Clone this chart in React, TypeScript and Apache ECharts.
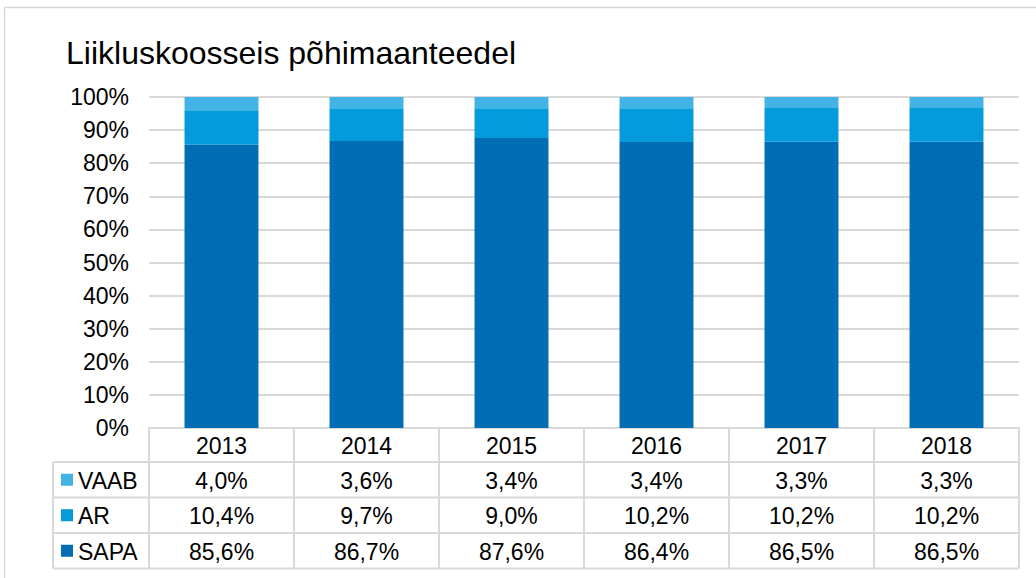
import React, { useEffect, useRef } from "react";
import * as echarts from "echarts";

const title = "Liikluskoosseis põhimaanteedel";
const years = ["2013", "2014", "2015", "2016", "2017", "2018"];
const seriesNames = ["SAPA", "AR", "VAAB"];
const sapa = [85.6, 86.7, 87.6, 86.4, 86.5, 86.5];
const ar = [10.4, 9.7, 9.0, 10.2, 10.2, 10.2];
const vaab = [4.0, 3.6, 3.4, 3.4, 3.3, 3.3];
const colors = ["#006DB4", "#039BDB", "#41B4E5"];

const W = 1036;
const H = 578;
const FONT = "'Liberation Sans', Arial, sans-serif";
const GRID_LEFT = 149;
const GRID_RIGHT = 17;
const GRID_TOP = 97;
const GRID_BOTTOM = 150;
const ROW_H = 35.5;
const LINE = "#D9D9D9";

const fmt = (v: number) => v.toFixed(1).replace(".", ",") + "%";

export default function App() {
  const ref = useRef<HTMLDivElement>(null);
  useEffect(() => {
    if (!ref.current) return;
    const chart = echarts.init(ref.current, undefined, { renderer: "svg" });
    const axisY = H - GRID_BOTTOM;
    const plotW = W - GRID_LEFT - GRID_RIGHT;
    const colW = plotW / years.length;
    const headerBottom = axisY + 34;
    const rowsData = [
      { name: seriesNames[2], vals: vaab, color: colors[2] },
      { name: seriesNames[1], vals: ar, color: colors[1] },
      { name: seriesNames[0], vals: sapa, color: colors[0] },
    ];
    const tableBottom = headerBottom + ROW_H * rowsData.length;
    const leftX = 53;
    const g: any[] = [];
    // outer frame
    g.push({
      type: "rect",
      shape: { x: 4.5, y: 7.5, width: W + 20, height: H + 20 },
      style: { fill: "none", stroke: LINE, lineWidth: 1.5 },
      silent: true,
    });
    // vertical lines
    for (let i = 0; i <= years.length; i++) {
      const x = GRID_LEFT + i * colW;
      g.push({
        type: "line",
        shape: { x1: x, y1: axisY, x2: x, y2: tableBottom },
        style: { stroke: LINE, lineWidth: 2 },
      });
    }
    g.push({
      type: "line",
      shape: { x1: leftX, y1: headerBottom, x2: leftX, y2: tableBottom },
      style: { stroke: LINE, lineWidth: 2 },
    });
    for (let r = 0; r <= rowsData.length; r++) {
      const y = headerBottom + r * ROW_H;
      g.push({
        type: "line",
        shape: { x1: leftX, y1: y, x2: GRID_LEFT + plotW, y2: y },
        style: { stroke: LINE, lineWidth: 2 },
      });
    }
    rowsData.forEach((row, r) => {
      const cy = headerBottom + r * ROW_H + ROW_H / 2;
      g.push({
        type: "rect",
        shape: { x: 61, y: cy - 6, width: 12, height: 12 },
        style: { fill: row.color },
      });
      g.push({
        type: "text",
        x: 78,
        y: cy + 1,
        style: {
          text: row.name,
          font: `23px ${FONT}`,
          fill: "#000",
          textAlign: "left",
          textVerticalAlign: "middle",
        },
      });
      row.vals.forEach((v, i) => {
        g.push({
          type: "text",
          x: GRID_LEFT + i * colW + colW / 2,
          y: cy + 1,
          style: {
            text: fmt(v),
            font: `23px ${FONT}`,
            fill: "#000",
            textAlign: "center",
            textVerticalAlign: "middle",
          },
        });
      });
    });

    const mk = (name: string, data: number[], color: string) => ({
      name,
      type: "bar",
      stack: "total",
      data,
      barWidth: "51%",
      itemStyle: { color },
    });

    chart.setOption({
      animation: false,
      title: {
        text: title,
        left: 61,
        top: 32,
        textStyle: { fontFamily: FONT, fontSize: 32, fontWeight: "normal", color: "#000" },
      },
      grid: { left: GRID_LEFT, right: GRID_RIGHT, top: GRID_TOP, bottom: GRID_BOTTOM },
      xAxis: {
        type: "category",
        data: years,
        axisTick: { show: false },
        axisLine: { lineStyle: { color: LINE, width: 2 } },
        axisLabel: { fontFamily: FONT, fontSize: 23, color: "#000", margin: 6 },
      },
      yAxis: {
        type: "value",
        min: 0,
        max: 100,
        interval: 10,
        axisLabel: {
          formatter: "{value}%",
          fontFamily: FONT,
          fontSize: 23,
          color: "#000",
          margin: 20,
        },
        splitLine: { lineStyle: { color: LINE, width: 2 } },
        axisLine: { show: false },
        axisTick: { show: false },
      },
      series: [mk(seriesNames[0], sapa, colors[0]), mk(seriesNames[1], ar, colors[1]), mk(seriesNames[2], vaab, colors[2])],
      graphic: g,
    });
    return () => chart.dispose();
  }, []);
  return (
    <div
      ref={ref}
      style={{ position: "fixed", left: 0, top: 0, width: W, height: H, background: "#fff" }}
    />
  );
}
